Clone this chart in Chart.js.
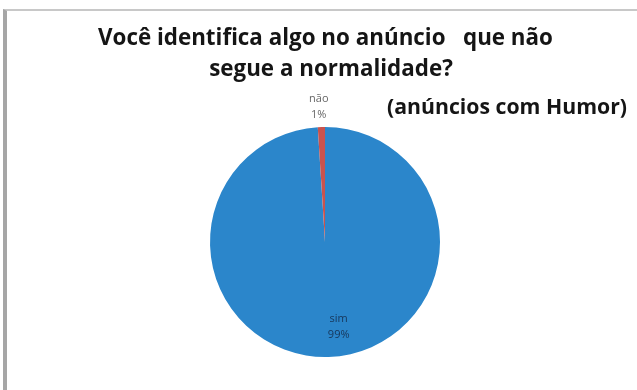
<!DOCTYPE html>
<html>
<head>
<meta charset="utf-8">
<script src="https://cdn.jsdelivr.net/npm/chart.js@4/dist/chart.umd.min.js"></script>
<style>
  html, body { margin: 0; padding: 0; background: #fff; }
  #wrap { position: relative; width: 637px; height: 390px; }
  #frame { position: absolute; left: 3px; top: 9px; width: 640px; height: 400px;
           border-left: 4px solid #a6a6a6; border-top: 2px solid #c8c8c8; box-sizing: border-box; }
  canvas { position: absolute; left: 0; top: 0; }
</style>
</head>
<body>
<div id="wrap">
  <div id="frame"></div>
  <canvas id="pie" width="637" height="390"></canvas>
</div>
<script>
// data
const categories = ['sim', 'não'];
const values = [99, 1];
const percentLabels = ['99%', '1%'];
const titleLines = ['Você identifica algo no anúncio   que não', 'segue a normalidade?'];
const subtitle = '(anúncios com Humor)';

const colors = ['#2b86cb', '#c9534e'];
const labelColors = ['#17365a', '#666666'];

// pick a font size so the text spans the given width
function fitFont(ctx, text, width, family) {
  ctx.font = 'bold 20px ' + family;
  const w = ctx.measureText(text).width;
  return 'bold ' + (20 * width / w).toFixed(2) + 'px ' + family;
}

// text drawn on top of the chart (titles + slice labels)
const textPlugin = {
  id: 'textPlugin',
  afterDraw(chart) {
    const ctx = chart.ctx;
    ctx.save();
    ctx.fillStyle = '#151515';
    ctx.textBaseline = 'alphabetic';
    ctx.font = fitFont(ctx, titleLines[0], 455, '"Open Sans"');
    ctx.textAlign = 'left';
    ctx.fillText(titleLines[0], 98, 45);
    ctx.textAlign = 'center';
    ctx.fillText(titleLines[1], 331, 76);
    ctx.textAlign = 'left';
    ctx.font = fitFont(ctx, subtitle, 240, '"Open Sans"');
    ctx.fillText(subtitle, 387, 114);

    // slice labels, placed from the arcs the library computed
    const meta = chart.getDatasetMeta(0);
    ctx.font = '11px "Open Sans"';
    ctx.textAlign = 'center';
    ctx.textBaseline = 'middle';
    meta.data.forEach((arc, i) => {
      const p = arc.getProps(['x', 'y', 'startAngle', 'endAngle', 'outerRadius'], true);
      const mid = (p.startAngle + p.endAngle) / 2;
      let r, dx = 0;
      if (i === 0) { r = p.outerRadius * 0.74; dx = 11; }
      else { r = p.outerRadius + 20; dx = -2; }
      const x = p.x + Math.cos(mid) * r + dx;
      const y = p.y + Math.sin(mid) * r;
      ctx.fillStyle = labelColors[i];
      ctx.fillText(categories[i], x, y - 8);
      ctx.fillText(percentLabels[i], x, y + 8);
    });
    ctx.restore();
  }
};

new Chart(document.getElementById('pie'), {
  type: 'pie',
  data: {
    labels: categories,
    datasets: [{
      data: values,
      backgroundColor: colors,
      borderWidth: 0,
    }],
  },
  options: {
    responsive: false,
    animation: false,
    layout: { padding: { top: 127, bottom: 33, left: 210, right: 197 } },
    plugins: {
      legend: { display: false },
      tooltip: { enabled: false },
      title: { display: false },
    },
  },
  plugins: [textPlugin],
});
</script>
</body>
</html>
